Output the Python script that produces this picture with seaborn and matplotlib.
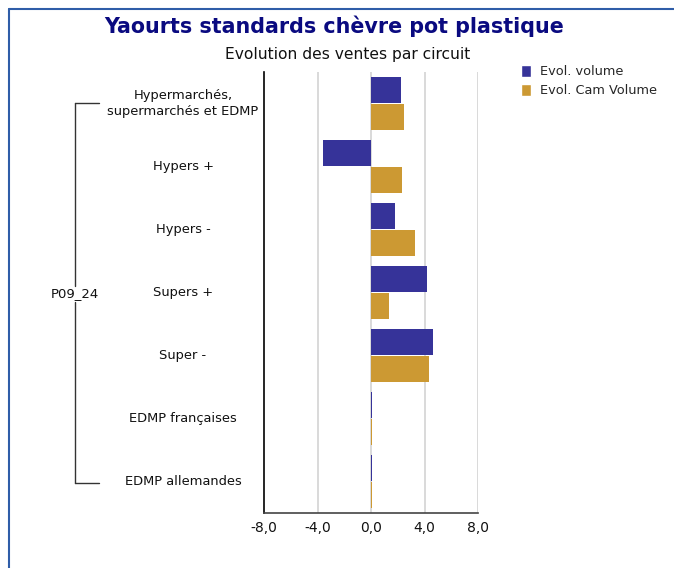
import matplotlib
matplotlib.use("Agg")
import matplotlib.pyplot as plt
import seaborn as sns
import pandas as pd
from matplotlib.lines import Line2D
from matplotlib.patches import Patch

categories = ["Hypermarchés,\nsupermarchés et EDMP", "Hypers +", "Hypers -", "Supers +",
              "Super -", "EDMP françaises", "EDMP allemandes"]
evol_volume = [2.25, -3.6, 1.8, 4.2, 4.6, 0.1, 0.1]
evol_cam_volume = [2.5, 2.3, 3.3, 1.35, 4.3, 0.1, 0.1]
series_names = ["Evol. volume", "Evol. Cam Volume"]
xticks = [-8, -4, 0, 4, 8]
group_label = "P09_24"

df = pd.DataFrame({
    "cat": categories * 2,
    "val": evol_volume + evol_cam_volume,
    "serie": [series_names[0]] * len(categories) + [series_names[1]] * len(categories),
})

colors = ["#363399", "#CC9933"]

sns.set_theme(style="white")
plt.rcParams['font.family'] = ['DejaVu Sans']

fig = plt.figure(figsize=(6.74, 5.68), dpi=100)
ax = fig.add_axes([264/674, 1 - 513/568, 214/674, 441/568])

sns.barplot(data=df, y="cat", x="val", hue="serie", palette=colors, orient="h",
            width=0.88, gap=0.07, ax=ax, legend=False, saturation=1, errorbar=None,
            linewidth=0, edgecolor="none")

ax.set_xlim(-8, 8)
ax.set_ylim(len(categories) - 0.5, -0.5)
ax.set_xticks(xticks)
ax.set_xticklabels([f"{v:.1f}".replace(".", ",") for v in xticks], fontsize=10, color="#111111")
ax.tick_params(axis="x", length=0, pad=6)
ax.set_yticks([])
ax.set_xlabel("")
ax.set_ylabel("")
for v in xticks[1:]:
    ax.axvline(v, color="#d3d3d3", lw=1.2, zorder=0)
ax.set_axisbelow(True)
for s in ["top", "right"]:
    ax.spines[s].set_visible(False)
ax.spines["left"].set_color("black")
ax.spines["left"].set_linewidth(1.2)
ax.spines["bottom"].set_color("#444444")
ax.spines["bottom"].set_linewidth(1.2)

# category labels
for i, c in enumerate(categories):
    ax.text(-8 - 81/13.375, i, c, ha="center", va="center", fontsize=9.4,
            color="#111111", transform=ax.transData, linespacing=1.3)

# bracket
def fx(px):
    return px / 674
def fy(py):
    return 1 - py / 568
top_y, bot_y, bx, bx2 = 103, 483, 75, 99
fig.add_artist(Line2D([fx(bx), fx(bx)], [fy(top_y), fy(286)], color="#333333", lw=1))
fig.add_artist(Line2D([fx(bx), fx(bx)], [fy(302), fy(bot_y)], color="#333333", lw=1))
fig.add_artist(Line2D([fx(bx), fx(bx2)], [fy(top_y), fy(top_y)], color="#333333", lw=1))
fig.add_artist(Line2D([fx(bx), fx(bx2)], [fy(bot_y), fy(bot_y)], color="#333333", lw=1))
fig.text(fx(bx), fy(294), group_label, ha="center", va="center", fontsize=9.5, color="#111111")

# titles
fig.text(fx(334), fy(26), "Yaourts standards chèvre pot plastique", ha="center", va="center",
         fontsize=14.9, fontweight="bold", color="#0A0A80")
fig.text(fx(348), fy(55), "Evolution des ventes par circuit", ha="center", va="center",
         fontsize=11.2, color="#111111")

# legend
handles = [Patch(facecolor=colors[0]), Patch(facecolor=colors[1])]
fig.legend(handles, series_names, loc="upper left", bbox_to_anchor=(fx(521), fy(65)),
           frameon=False, fontsize=9.3, handlelength=0.8, handleheight=1.0,
           handletextpad=0.7, labelspacing=0.45, borderaxespad=0, borderpad=0)

# frame border
fig.add_artist(Line2D([fx(8.5), fx(8.5)], [fy(8.5), 0], color="#2F5DA8", lw=1.5))
fig.add_artist(Line2D([fx(8.5), 1], [fy(8.5), fy(8.5)], color="#2F5DA8", lw=1.5))

fig.savefig("out.png", dpi=100)
